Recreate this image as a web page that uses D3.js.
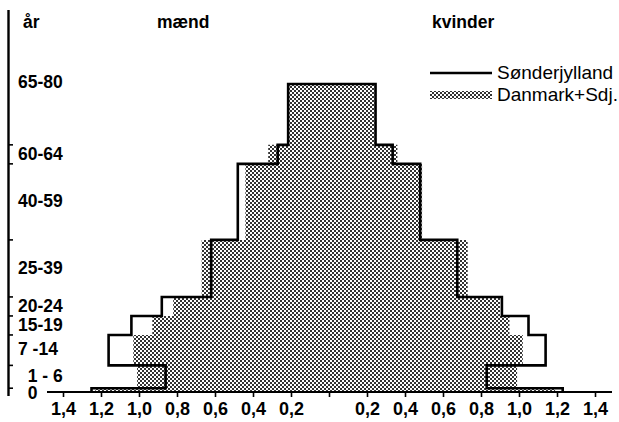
<!DOCTYPE html>
<html>
<head>
<meta charset="utf-8">
<script src="https://cdn.jsdelivr.net/npm/d3@7"></script>
<style>
  body { margin: 0; background: #fff; }
  svg { display: block; font-family: "Liberation Sans", Arial, sans-serif; }
  .lbl { font-weight: bold; font-size: 17.5px; white-space: pre; }
  .tick text { font-family: "Liberation Sans Narrow", "Liberation Sans", sans-serif; font-weight: bold; font-size: 18px; }
</style>
</head>
<body>
<svg id="chart" width="619" height="422"></svg>
<script>
// age groups (lower bound, upper bound exclusive)
const ageGroups = ["\u20070", "\u20071 - 6", "7 -14", "15-19", "20-24", "25-39", "40-59", "60-64", "65-80"];
const ageFrom = [0, 1, 7, 15, 20, 25, 40, 60, 65];
const ageTo   = [1, 7, 15, 20, 25, 40, 60, 65, 81];

// Sønderjylland (outline)
const sdjMen   = [1.25, 0.86, 1.16, 1.04, 0.88, 0.62, 0.48, 0.27, 0.215];
const sdjWomen = [1.23, 0.83, 1.14, 1.05, 0.91, 0.675, 0.48, 0.335, 0.245];
// Danmark + Sdj. (dotted fill)
const dkMen    = [1.23, 1.01, 1.03, 0.93, 0.82, 0.67, 0.44, 0.32, 0.21];
const dkWomen  = [1.19, 0.99, 1.02, 0.95, 0.90, 0.73, 0.49, 0.36, 0.24];

const xTicks = [-1.4, -1.2, -1.0, -0.8, -0.6, -0.4, -0.2, 0, 0.2, 0.4, 0.6, 0.8, 1.0, 1.2, 1.4];
const legendNames = ["Sønderjylland", "Danmark+Sdj."];

const svg = d3.select("#chart");

const x = d3.scaleLinear().domain([-1.4, 1.4]).range([63, 595]);
const y = d3.scaleLinear().domain([0, 81]).range([392, 84]);

// halftone pattern
const pat = svg.append("defs").append("pattern")
    .attr("id", "dots")
    .attr("patternUnits", "userSpaceOnUse")
    .attr("width", 4).attr("height", 4);
pat.append("rect").attr("width", 2).attr("height", 2).attr("fill", "#333");
pat.append("rect").attr("x", 2).attr("y", 2).attr("width", 2).attr("height", 2).attr("fill", "#333");

// build a stepped pyramid outline from two value arrays
function stepPoints(men, women) {
  const pts = [];
  men.forEach((v, i) => {
    pts.push([x(-v), y(ageFrom[i])]);
    pts.push([x(-v), y(ageTo[i])]);
  });
  for (let i = women.length - 1; i >= 0; i--) {
    pts.push([x(women[i]), y(ageTo[i])]);
    pts.push([x(women[i]), y(ageFrom[i])]);
  }
  return pts;
}
const line = d3.line();

svg.append("path")
    .attr("d", line(stepPoints(dkMen, dkWomen)) + "Z")
    .attr("fill", "url(#dots)");

svg.append("path")
    .attr("d", line(stepPoints(sdjMen, sdjWomen)))
    .attr("fill", "none")
    .attr("stroke", "#000")
    .attr("stroke-width", 2.6)
    .attr("stroke-linejoin", "miter");

// bottom axis
const fmt = v => v === 0 ? "" : d3.format(".1f")(Math.abs(v)).replace(".", ",");
const axis = svg.append("g")
    .attr("transform", `translate(0,${y(0)})`)
    .call(d3.axisBottom(x).tickValues(xTicks).tickFormat(fmt).tickSize(5).tickPadding(5));
axis.select(".domain").remove();
axis.selectAll(".tick line").attr("stroke", "#000").attr("stroke-width", 1.6);
axis.selectAll(".tick text").attr("fill", "#000");
svg.append("line")
    .attr("x1", 47).attr("x2", 612)
    .attr("y1", y(0)).attr("y2", y(0))
    .attr("stroke", "#000").attr("stroke-width", 2);

// left age axis
svg.append("line")
    .attr("x1", 8.5).attr("x2", 8.5)
    .attr("y1", 10).attr("y2", 396)
    .attr("stroke", "#000").attr("stroke-width", 2.4);
svg.append("g").selectAll("line")
    .data(ageFrom.slice(1))
    .join("line")
    .attr("x1", 8.5).attr("x2", 13)
    .attr("y1", d => y(d)).attr("y2", d => y(d))
    .attr("stroke", "#000").attr("stroke-width", 1.6);

// group labels: centred in the band, the open top group sits at its upper edge
const last = ageGroups.length - 1;
svg.append("g").selectAll("text")
    .data(ageGroups)
    .join("text")
    .attr("class", "lbl")
    .attr("x", 18)
    .attr("y", (d, i) => i === last ? y(ageTo[i]) - 2
                       : i === 0 ? y(ageFrom[i]) + 1
                       : y((ageFrom[i] + ageTo[i]) / 2) - 1)
    .attr("dy", "0.36em")
    .text(d => d);

// headings
svg.append("text").attr("class", "lbl").attr("x", 23).attr("y", 28).text("år");
svg.append("text").attr("class", "lbl").attr("x", 157).attr("y", 28).text("mænd");
svg.append("text").attr("class", "lbl").attr("x", 432).attr("y", 28).attr("font-size", 18.5).text("kvinder");

// legend
const leg = svg.append("g");
leg.append("line")
    .attr("x1", 430).attr("x2", 492).attr("y1", 73).attr("y2", 73)
    .attr("stroke", "#000").attr("stroke-width", 2.6);
leg.append("rect")
    .attr("x", 430).attr("y", 91).attr("width", 62).attr("height", 8)
    .attr("fill", "url(#dots)");
leg.selectAll("text")
    .data(legendNames)
    .join("text")
    .attr("x", 497)
    .attr("y", (d, i) => 79 + i * 22)
    .attr("font-size", 19)
    .text(d => d);
</script>
</body>
</html>
